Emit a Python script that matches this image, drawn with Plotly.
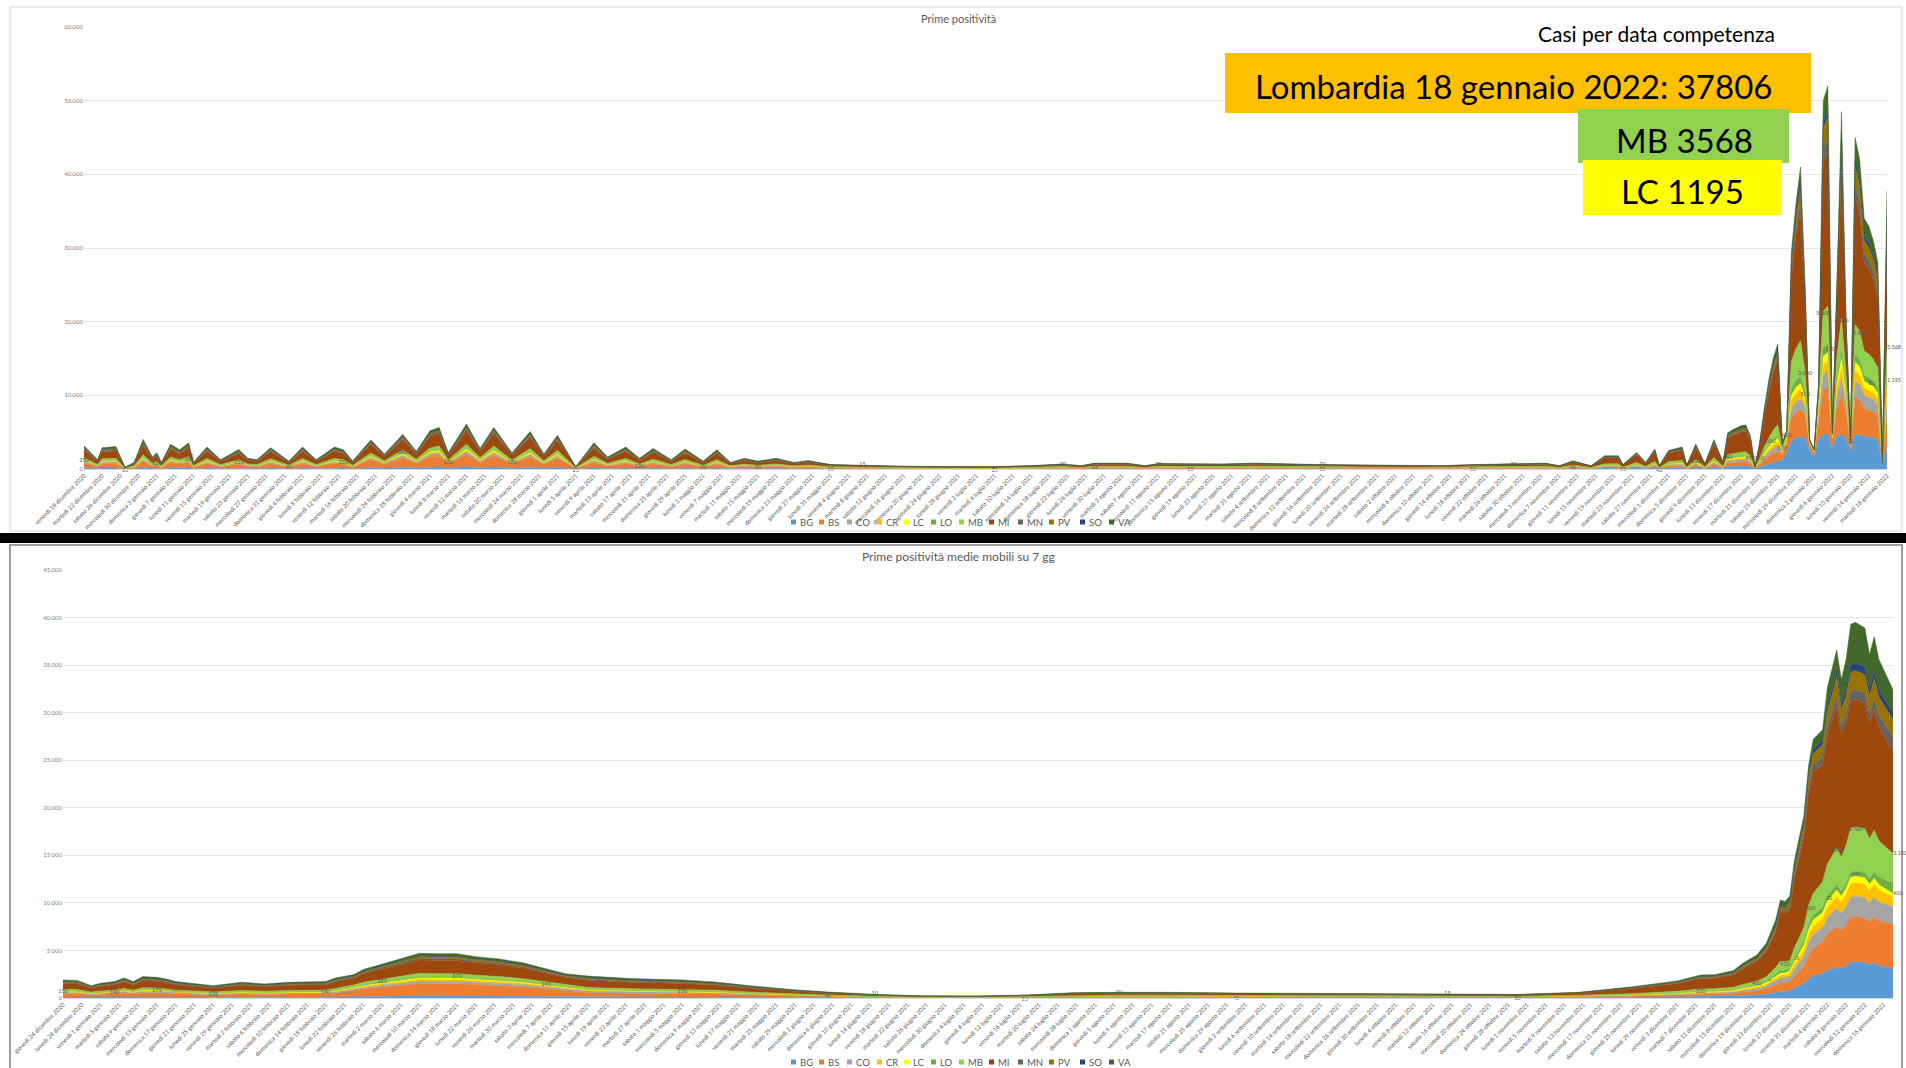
import datetime as dt
import plotly.graph_objects as go

W, H = 1906, 1068

SERIES = ["BG", "BS", "CO", "CR", "LC", "LO", "MB", "MI", "MN", "PV", "SO", "VA"]
COLORS = ["#5B9BD5", "#ED7D31", "#A5A5A5", "#FFC000", "#FFFF00", "#70AD47",
          "#92D050", "#9E480E", "#636363", "#997300", "#264478", "#43682B"]

WEEKDAYS_IT = ["lunedì", "martedì", "mercoledì", "giovedì", "venerdì", "sabato", "domenica"]
MONTHS_IT = ["gennaio", "febbraio", "marzo", "aprile", "maggio", "giugno", "luglio",
             "agosto", "settembre", "ottobre", "novembre", "dicembre"]

# ---------------- top chart: daily new positives (days since 18 Dec 2020) ----------------
TOP_START = dt.date(2020, 12, 18)
TOP_DAY = [0, 3, 4, 7, 9, 11, 13, 15, 16, 17, 19, 21, 23, 24, 27, 30, 34, 36, 38, 41,
           45, 48, 51, 55, 57, 59, 63, 66, 70, 73, 76, 78, 80, 84, 87, 90, 94, 98, 101, 104,
           108, 112, 115, 119, 122, 125, 129, 132, 136, 139, 142, 145, 148, 152, 156, 159, 164, 171, 179, 190,
           200, 208, 215, 219, 222, 229, 233, 236, 243, 250, 257, 264, 272, 281, 290, 298, 305, 314, 321, 324,
           327, 331, 334, 337, 338, 341, 343, 345, 346, 348, 351, 352, 354, 356, 358, 360, 361, 362, 364, 365,
           366, 367, 368, 369, 370, 371, 372, 373, 374, 375, 376, 377, 378, 379, 380, 381, 382, 383, 384, 385,
           386, 387, 388, 389, 390, 391, 392, 393, 394, 395, 396]

TOP_BG = [160, 60, 150, 150, 10, 40, 200, 80, 110, 40, 170, 130, 180, 40, 150, 60, 130, 70, 60, 150, 50, 150, 60, 150, 130, 50,
          200, 100, 240, 120, 260, 280, 110, 310, 140, 280, 110, 250, 100, 230, 15,
          180, 80, 150, 70, 140, 60, 135, 50, 130, 40, 70, 50, 70, 40, 60, 30, 25, 20, 15, 15, 20, 35, 20, 40, 40, 20, 40, 35, 35, 40, 35, 30, 30, 25, 20, 30, 35, 40, 20, 55, 20,
          130, 130, 40, 160, 60, 190, 30, 180, 210, 35, 240, 50, 280, 60, 340, 370, 410, 420, 320,
          100,
          250, 500, 700, 900, 1000, 1200, 2200, 3700, 4200, 4400, 4300, 2600, 1600, 4000, 4700, 4800, 2800, 4500, 4600, 4200, 2400, 4700, 4600, 4400, 4300, 4300, 3900, 500, 3000]
TOP_BS = [630, 250, 580, 610, 50, 180, 800, 330, 440, 180, 670, 520, 710, 180, 600, 250, 530, 290, 250, 580, 210, 600, 250, 600, 520, 210,
          1060, 550, 1270, 650, 1400, 1530, 590, 1650, 750, 1530, 590, 1370, 550, 1240, 80,
          710, 330, 600, 290, 560, 250, 540, 210, 520, 180, 290, 210, 290, 180, 230, 120, 100, 75, 65, 65, 90, 135, 90, 160, 160, 90, 150, 135, 135, 160, 135, 120, 110, 100, 90, 120, 135, 160, 90, 220, 90,
          180, 180, 60, 230, 90, 270, 45, 250, 300, 50, 340, 70, 400, 90, 490, 530, 590, 600, 450,
          40,
          350, 700, 1000, 1200, 1400, 700, 1300, 3300, 3500, 3600, 3000, 700, 500, 2500, 6000, 6300, 1000, 4000, 5500, 3500, 600, 5000, 4800, 3800, 3600, 3500, 3200, 150, 4200]
TOP_CO = [220, 90, 200, 210, 20, 60, 280, 110, 160, 60, 240, 180, 250, 60, 210, 90, 190, 100, 90, 200, 80, 210, 90, 210, 180, 80,
          240, 120, 280, 140, 310, 340, 130, 370, 170, 340, 130, 300, 120, 270, 20,
          250, 110, 210, 100, 195, 90, 190, 80, 180, 60, 100, 80, 100, 60, 80, 40, 35, 25, 25, 20, 30, 50, 30, 55, 55, 30, 50, 50, 50, 55, 50, 40, 40, 35, 30, 40, 50, 55, 30, 75, 30,
          90, 90, 30, 110, 45, 140, 25, 130, 150, 25, 170, 35, 200, 45, 250, 270, 300, 300, 230,
          20,
          180, 400, 550, 700, 800, 250, 400, 1200, 1400, 1500, 1100, 200, 150, 800, 2200, 2300, 300, 1500, 2200, 1200, 150, 2200, 2100, 1800, 1800, 1700, 1600, 40, 2300]
TOP_CR = [100, 40, 90, 90, 10, 30, 120, 50, 70, 30, 100, 80, 110, 30, 90, 40, 80, 40, 40, 90, 30, 90, 40, 90, 80, 30,
          160, 80, 190, 100, 210, 230, 90, 240, 110, 230, 90, 200, 80, 180, 10,
          110, 50, 90, 40, 85, 40, 80, 30, 80, 30, 40, 30, 40, 30, 30, 20, 15, 10, 10, 10, 15, 20, 15, 25, 25, 15, 25, 20, 20, 25, 20, 20, 15, 15, 15, 20, 20, 25, 15, 35, 15,
          50, 50, 20, 70, 30, 80, 15, 70, 90, 15, 100, 20, 120, 30, 150, 160, 180, 180, 140,
          10,
          100, 250, 350, 450, 500, 150, 250, 1100, 1200, 1300, 800, 120, 80, 600, 1300, 1300, 150, 900, 1400, 800, 90, 1400, 1300, 1000, 1000, 900, 900, 30, 1300]
TOP_LC = [100, 40, 90, 90, 10, 30, 120, 50, 70, 30, 100, 80, 110, 30, 90, 40, 80, 40, 40, 90, 30, 90, 40, 90, 80, 30,
          120, 60, 140, 70, 160, 170, 70, 180, 80, 170, 70, 150, 60, 140, 10,
          110, 50, 90, 40, 85, 40, 80, 30, 80, 30, 40, 30, 40, 30, 30, 20, 15, 10, 10, 10, 15, 20, 15, 25, 25, 15, 20, 20, 20, 25, 20, 20, 15, 15, 15, 20, 20, 25, 15, 35, 15,
          50, 50, 20, 70, 25, 80, 15, 70, 90, 15, 100, 20, 120, 25, 150, 160, 180, 180, 140,
          10,
          100, 250, 350, 450, 500, 120, 200, 700, 800, 800, 500, 80, 60, 500, 1100, 1100, 120, 800, 1300, 600, 70, 1200, 1100, 900, 900, 800, 700, 20, 1195]
TOP_LO = [60, 30, 60, 60, 5, 20, 80, 30, 40, 20, 70, 50, 70, 20, 60, 30, 50, 30, 30, 60, 20, 60, 30, 60, 50, 20,
          80, 40, 90, 50, 100, 110, 40, 120, 60, 110, 40, 100, 40, 90, 5,
          70, 30, 60, 30, 55, 30, 55, 20, 50, 20, 30, 20, 30, 20, 20, 10, 10, 10, 5, 5, 10, 15, 10, 15, 15, 10, 15, 15, 15, 15, 15, 10, 10, 10, 10, 10, 15, 15, 10, 20, 10,
          40, 40, 10, 40, 20, 50, 10, 50, 60, 10, 70, 15, 80, 20, 100, 110, 120, 120, 90,
          5,
          70, 150, 200, 250, 300, 100, 150, 900, 900, 1000, 600, 60, 50, 500, 1100, 1200, 100, 700, 1000, 500, 50, 1000, 900, 800, 800, 700, 700, 20, 900]
TOP_MB = [250, 100, 230, 240, 20, 70, 320, 130, 180, 70, 270, 210, 280, 70, 240, 100, 210, 120, 100, 230, 90, 240, 100, 240, 210, 90,
          310, 160, 380, 190, 420, 450, 180, 490, 220, 450, 180, 410, 160, 370, 25,
          280, 130, 240, 120, 220, 100, 215, 90, 210, 70, 120, 90, 120, 70, 90, 50, 40, 30, 25, 25, 35, 55, 35, 65, 65, 35, 60, 55, 55, 65, 55, 50, 45, 40, 35, 50, 55, 65, 35, 90, 35,
          160, 160, 55, 200, 80, 240, 40, 230, 270, 45, 310, 65, 360, 80, 440, 480, 530, 540, 410,
          20,
          320, 700, 1000, 1300, 1500, 300, 400, 3700, 4300, 4800, 3000, 100, 80, 1500, 5000, 5100, 150, 2800, 4500, 2000, 70, 4100, 3900, 3300, 3200, 3000, 2700, 20, 3568]
TOP_MI = [1050, 420, 960, 1010, 70, 290, 1320, 540, 730, 290, 1110, 860, 1170, 290, 980, 420, 880, 480, 420, 960, 350, 980, 420, 980, 860, 350,
          1180, 600, 1410, 720, 1560, 1700, 660, 1830, 840, 1700, 660, 1520, 600, 1370, 90,
          1170, 540, 980, 480, 920, 420, 890, 350, 860, 290, 480, 350, 480, 290, 380, 200, 165, 125, 110, 105, 150, 225, 150, 265, 265, 150, 250, 225, 225, 265, 225, 200, 180, 165, 150, 200, 225, 265, 150, 360, 150,
          830, 830, 275, 1030, 415, 1240, 205, 1150, 1380, 230, 1560, 320, 1840, 415, 2250, 2440, 2710, 2760, 2070,
          60,
          1610, 3900, 6200, 7800, 8800, 450, 250, 11500, 15500, 17500, 9000, 100, 60, 900, 20300, 21000, 150, 8000, 19500, 6000, 60, 17500, 16000, 12000, 11600, 10800, 9500, 20, 14000]
TOP_MN = [130, 50, 120, 120, 10, 30, 160, 70, 90, 30, 130, 100, 140, 30, 120, 50, 110, 60, 50, 120, 40, 120, 50, 120, 100, 40,
          160, 80, 190, 100, 210, 230, 90, 240, 110, 230, 90, 200, 80, 180, 10,
          140, 70, 120, 60, 110, 50, 110, 40, 100, 30, 60, 40, 60, 30, 50, 30, 20, 15, 15, 15, 20, 25, 20, 30, 30, 20, 30, 25, 25, 30, 25, 25, 20, 20, 20, 25, 25, 30, 20, 45, 20,
          50, 50, 20, 70, 25, 80, 15, 70, 90, 15, 100, 20, 120, 25, 150, 160, 180, 180, 140,
          5,
          100, 250, 350, 400, 450, 60, 40, 800, 1000, 1200, 600, 10, 5, 50, 1700, 1800, 10, 400, 1500, 300, 5, 1600, 1500, 1200, 1200, 1100, 1000, 0, 1300]
TOP_PV = [160, 60, 140, 160, 10, 40, 200, 80, 110, 40, 170, 130, 180, 40, 150, 60, 130, 70, 60, 140, 50, 150, 60, 150, 130, 50,
          160, 80, 190, 100, 210, 230, 90, 240, 110, 230, 90, 200, 80, 180, 15,
          180, 80, 150, 70, 140, 60, 135, 50, 130, 40, 70, 50, 70, 40, 60, 30, 25, 20, 15, 15, 25, 35, 25, 40, 40, 25, 35, 35, 35, 40, 35, 30, 30, 25, 25, 30, 35, 40, 25, 55, 25,
          70, 70, 25, 90, 35, 110, 15, 100, 120, 20, 140, 30, 160, 35, 200, 210, 240, 240, 180,
          10,
          140, 300, 450, 550, 600, 70, 50, 1000, 1300, 1700, 800, 20, 10, 80, 2800, 2900, 10, 700, 2500, 500, 5, 2400, 2300, 1800, 1700, 1600, 1400, 0, 2000]
TOP_SO = [60, 20, 60, 60, 5, 20, 80, 30, 40, 20, 70, 50, 70, 20, 60, 20, 50, 30, 20, 60, 20, 60, 20, 60, 50, 20,
          40, 30, 50, 20, 50, 60, 20, 60, 30, 60, 20, 50, 30, 50, 5,
          70, 30, 60, 30, 55, 20, 55, 20, 50, 20, 30, 20, 30, 20, 20, 10, 10, 10, 5, 5, 5, 15, 5, 15, 15, 5, 15, 15, 15, 15, 15, 10, 10, 10, 5, 10, 15, 15, 5, 20, 5,
          20, 20, 5, 20, 10, 30, 5, 30, 30, 5, 30, 5, 40, 10, 50, 50, 60, 60, 40,
          5,
          40, 100, 150, 150, 150, 30, 20, 400, 400, 500, 300, 5, 0, 20, 800, 900, 5, 200, 800, 100, 0, 900, 800, 600, 600, 600, 500, 0, 600]
TOP_VA = [250, 100, 220, 250, 10, 70, 330, 140, 180, 70, 250, 210, 280, 70, 230, 100, 220, 120, 100, 220, 100, 230, 100, 230, 210, 100,
          220, 120, 270, 140, 310, 320, 130, 370, 170, 320, 130, 330, 120, 280, 15,
          280, 140, 230, 120, 225, 100, 215, 100, 210, 70, 120, 100, 120, 70, 100, 50, 40, 30, 30, 30, 35, 50, 35, 65, 65, 35, 60, 50, 50, 65, 50, 45, 45, 40, 35, 45, 50, 65, 35, 95, 35,
          130, 130, 40, 160, 65, 190, 30, 170, 210, 35, 240, 50, 280, 65, 330, 360, 400, 400, 290,
          15,
          240, 500, 700, 850, 1000, 70, 40, 1200, 1500, 2700, 1000, 5, 5, 50, 3000, 3300, 5, 500, 3700, 300, 0, 3000, 2700, 2400, 2300, 2000, 1900, 0, 3443]

# ---------------- bottom chart: 7-day moving average (days since 24 Dec 2020) ----------------
BOT_START = dt.date(2020, 12, 24)
BOT_DAY = [0, 3, 6, 8, 11, 13, 15, 17, 20, 22, 24, 29, 32, 38, 43, 48, 56, 58, 62, 64,
           68, 72, 76, 80, 84, 88, 93, 98, 103, 107, 112, 121, 132, 139, 147, 155, 163, 173, 183, 195,
           205, 215, 225, 235, 250, 265, 280, 295, 310, 323, 334, 344, 349, 352, 356, 358, 361, 363, 365, 366,
           367, 368, 369, 371, 372, 373, 375, 376, 378, 379, 380, 381, 382, 384, 385, 386, 387, 390]

BOT_BG = [95, 90, 65, 80, 85, 105, 85, 110, 110, 100, 85, 75, 65, 80, 75, 80, 85, 105,
          125, 150, 180, 205, 240, 235, 235, 220, 205, 185, 150, 130,
          115, 100, 95, 85, 60, 45, 30, 20, 10, 10, 15,
          30, 30, 30, 25, 25, 25, 20, 20, 30,
          80, 130, 170, 170, 200, 255, 320, 400, 570,
          670, 680, 750, 1015, 1540, 2000, 2300, 2600, 2900, 3200, 3100, 3400, 3750, 3800, 3700, 3500, 3700, 3400, 3100]
BOT_BS = [380, 370, 260, 310, 345, 420, 345, 450, 435, 400, 345, 295, 260, 330, 295, 330, 345, 420,
          665, 810, 965, 1105, 1270, 1255, 1255, 1175, 1105, 1000, 825, 690,
          460, 410, 380, 335, 250, 180, 125, 75, 45, 40, 80,
          110, 120, 120, 105, 100, 95, 85, 75, 120,
          115, 180, 240, 245, 290, 365, 455, 575, 820,
          900, 920, 960, 1305, 1760, 2500, 2900, 3300, 3800, 4300, 4000, 4300, 4700, 4750, 4700, 4500, 4800, 4700, 4600]
BOT_CO = [135, 130, 90, 110, 120, 145, 120, 160, 150, 140, 120, 105, 90, 115, 105, 115, 120, 145,
          150, 180, 215, 245, 280, 280, 280, 260, 245, 220, 185, 155,
          160, 145, 135, 120, 90, 65, 45, 25, 15, 15, 20,
          40, 40, 40, 35, 35, 35, 30, 25, 40,
          60, 90, 120, 125, 145, 185, 225, 290, 410,
          530, 520, 535, 725, 1050, 1300, 1450, 1500, 1700, 1900, 1800, 1950, 2150, 2150, 2150, 2000, 2100, 2000, 1900]
BOT_CR = [55, 55, 40, 45, 50, 65, 50, 70, 65, 60, 50, 45, 40, 50, 45, 50, 50, 65,
          100, 120, 145, 165, 190, 185, 185, 175, 165, 150, 120, 100,
          70, 60, 55, 50, 40, 25, 20, 10, 5, 5, 10,
          15, 20, 20, 15, 15, 15, 15, 10, 20,
          35, 50, 75, 75, 85, 110, 135, 170, 245,
          300, 300, 320, 435, 650, 800, 900, 950, 1100, 1250, 1150, 1250, 1400, 1400, 1400, 1300, 1350, 1250, 1000]
BOT_LC = [55, 55, 40, 45, 50, 65, 50, 70, 65, 60, 50, 45, 40, 50, 45, 50, 50, 65,
          75, 90, 105, 125, 140, 140, 140, 130, 125, 110, 90, 75,
          70, 60, 55, 50, 40, 25, 20, 10, 5, 5, 10,
          15, 20, 20, 15, 15, 15, 15, 10, 20,
          35, 50, 75, 75, 85, 110, 135, 170, 245,
          200, 200, 270, 365, 550, 600, 650, 650, 700, 700, 650, 650, 700, 700, 700, 650, 650, 550, 400]
BOT_LO = [40, 35, 25, 30, 35, 40, 35, 45, 45, 40, 35, 30, 25, 35, 30, 35, 35, 40,
          50, 60, 70, 80, 90, 95, 95, 85, 80, 75, 60, 50,
          45, 40, 40, 35, 30, 20, 15, 10, 5, 5, 5,
          10, 10, 10, 10, 10, 10, 10, 10, 10,
          25, 40, 50, 50, 60, 75, 90, 115, 165,
          300, 290, 215, 290, 450, 500, 500, 500, 550, 550, 500, 500, 500, 500, 550, 600, 650, 800, 1100]
BOT_MB = [150, 150, 105, 125, 140, 170, 140, 180, 175, 160, 140, 120, 105, 130, 120, 130, 140, 170,
          195, 240, 285, 330, 380, 370, 370, 350, 330, 295, 245, 205,
          185, 165, 150, 135, 100, 70, 50, 30, 20, 15, 25,
          45, 50, 50, 40, 40, 40, 35, 30, 50,
          105, 160, 220, 220, 260, 330, 410, 520, 740,
          950, 920, 855, 1160, 1400, 2000, 2300, 2700, 3300, 3900, 3600, 4000, 4650, 4700, 4600, 4200, 4400, 3800, 3100]
BOT_MI = [625, 610, 430, 510, 570, 695, 570, 740, 715, 660, 570, 490, 430, 545, 490, 545, 570, 695,
          735, 900, 1075, 1230, 1410, 1395, 1395, 1305, 1230, 1110, 915, 770,
          760, 675, 625, 555, 420, 300, 205, 125, 75, 65, 90,
          180, 200, 200, 175, 165, 155, 135, 125, 200,
          530, 830, 1110, 1125, 1325, 1680, 2085, 2645, 3770,
          5250, 5120, 5350, 7250, 9600, 11900, 12800, 12300, 13500, 15000, 12900, 12900, 13400, 13400, 13200, 12100, 12800, 12000, 10700]
BOT_MN = [75, 75, 50, 60, 70, 85, 70, 90, 85, 80, 70, 60, 50, 65, 60, 65, 70, 85,
          100, 120, 145, 165, 190, 185, 185, 175, 165, 150, 120, 100,
          90, 80, 75, 65, 50, 35, 25, 15, 10, 10, 10,
          20, 25, 25, 20, 20, 20, 15, 15, 25,
          35, 50, 75, 75, 85, 110, 135, 170, 245,
          200, 200, 270, 365, 450, 600, 700, 800, 900, 1000, 900, 950, 1000, 1000, 1000, 1000, 1100, 1200, 1600]
BOT_PV = [95, 95, 65, 80, 85, 105, 85, 110, 110, 100, 85, 75, 65, 85, 75, 85, 85, 105,
          100, 120, 145, 165, 190, 185, 185, 175, 165, 150, 120, 100,
          115, 100, 95, 85, 60, 45, 30, 20, 10, 10, 15,
          30, 30, 30, 25, 25, 25, 20, 20, 30,
          45, 70, 95, 100, 115, 145, 180, 230, 330,
          300, 300, 430, 580, 700, 1000, 1200, 1300, 1600, 1900, 1700, 1800, 2000, 2000, 2000, 1900, 2000, 1900, 1800]
BOT_SO = [40, 35, 25, 30, 35, 40, 35, 45, 45, 40, 35, 30, 25, 35, 30, 35, 35, 40,
          25, 30, 35, 40, 50, 45, 45, 45, 40, 35, 30, 25,
          45, 40, 40, 35, 20, 20, 15, 10, 5, 5, 5,
          10, 10, 10, 10, 10, 10, 10, 10, 10,
          10, 20, 25, 25, 30, 35, 45, 60, 80,
          100, 100, 160, 215, 250, 300, 400, 500, 600, 700, 600, 700, 800, 800, 800, 750, 800, 750, 700]
BOT_VA = [155, 150, 105, 125, 140, 165, 140, 180, 170, 160, 140, 110, 105, 130, 110, 130, 140, 165,
          140, 180, 215, 245, 270, 280, 280, 255, 245, 220, 185, 160,
          185, 165, 155, 130, 100, 70, 50, 30, 15, 15, 15,
          45, 45, 45, 45, 40, 35, 30, 30, 45,
          75, 130, 165, 165, 200, 250, 310, 405, 580,
          600, 600, 585, 795, 750, 900, 1100, 1100, 1950, 2200, 2600, 3200, 4250, 4300, 4100, 3600, 3650, 3250, 2400]

TOP = dict(zip(SERIES, [TOP_BG, TOP_BS, TOP_CO, TOP_CR, TOP_LC, TOP_LO, TOP_MB, TOP_MI, TOP_MN, TOP_PV, TOP_SO, TOP_VA]))
BOT = dict(zip(SERIES, [BOT_BG, BOT_BS, BOT_CO, BOT_CR, BOT_LC, BOT_LO, BOT_MB, BOT_MI, BOT_MN, BOT_PV, BOT_SO, BOT_VA]))
for k in SERIES:
    assert len(TOP[k]) == len(TOP_DAY), ("top", k, len(TOP[k]), len(TOP_DAY))
    assert len(BOT[k]) == len(BOT_DAY), ("bot", k, len(BOT[k]), len(BOT_DAY))

LABELLED = ("LC", "MB")
FONT = "Lato, 'Open Sans', sans-serif"


def it_date(start, off):
    d = start + dt.timedelta(days=off)
    return f"{WEEKDAYS_IT[d.weekday()]} {d.day} {MONTHS_IT[d.month - 1]} {d.year}"


def it_num(v):
    return f"{v:,}".replace(",", ".")


TOP_TICKS = list(range(0, 397, 4))
BOT_TICKS = list(range(0, 391, 4))

fig = go.Figure()
for name, color in zip(SERIES, COLORS):
    for data, days, grp, xa, ya in ((TOP, TOP_DAY, "top", "x", "y"), (BOT, BOT_DAY, "bot", "x2", "y2")):
        vals = data[name]
        lab = name in LABELLED
        n = len(vals)
        labels, positions = None, None
        if lab:
            step, phase = (4, 0) if name == "MB" else (5, 2)
            base_pos = "bottom center" if name == "MB" else "top center"
            labels, positions = [], []
            for i, v in enumerate(vals):
                last = i == n - 1
                show = last or (i % step == phase and i < n - 3)
                labels.append(it_num(v) if show else "")
                positions.append("middle right" if last else base_pos)
        fig.add_trace(go.Scatter(
            x=days, y=vals, name=name, stackgroup=grp, xaxis=xa, yaxis=ya,
            mode="lines+text" if lab else "lines",
            line=dict(width=0.5, color=color), fillcolor=color,
            text=labels, textposition=positions, cliponaxis=False,
            textfont=dict(size=5.5, color="#595959", family=FONT),
            showlegend=False, hoverinfo="x+y+name"))


def px(x):
    return x / W


def py(y):
    return 1 - y / H


axis_common = dict(showgrid=False, zeroline=False, ticks="", showline=True, linecolor="#D9D9D9",
                   automargin=False, tickangle=-45,
                   tickfont=dict(size=6, color="#595959", family=FONT), fixedrange=True)
yaxis_common = dict(showgrid=True, gridcolor="#E6E6E6", gridwidth=1, zeroline=False, showline=False,
                    automargin=False, ticks="", tickformat=",d",
                    tickfont=dict(size=6, color="#7F7F7F", family=FONT), fixedrange=True)

fig.update_layout(
    width=W, height=H, margin=dict(l=0, r=0, t=0, b=0, pad=0, autoexpand=False),
    paper_bgcolor="white", plot_bgcolor="white", separators=",.",
    font=dict(family=FONT),
    xaxis=dict(domain=[px(84), px(1887)], range=[0, 396], anchor="y", tickmode="array",
               tickvals=TOP_TICKS, ticktext=[it_date(TOP_START, t) for t in TOP_TICKS], **axis_common),
    yaxis=dict(domain=[py(469), py(27)], range=[0, 60000], dtick=10000, anchor="x", **yaxis_common),
    xaxis2=dict(domain=[px(63), px(1893)], range=[0, 390], anchor="y2", tickmode="array",
                tickvals=BOT_TICKS, ticktext=[it_date(BOT_START, t) for t in BOT_TICKS], **axis_common),
    yaxis2=dict(domain=[py(998), py(570)], range=[0, 45000], dtick=5000, anchor="x2", **yaxis_common),
)

shapes = []
annots = []


def rect(x0, y0, x1, y1, fill=None, line=None, lw=1, layer="above"):
    shapes.append(dict(type="rect", xref="paper", yref="paper", x0=px(x0), x1=px(x1), y0=py(y1), y1=py(y0),
                       fillcolor=fill if fill else "rgba(0,0,0,0)",
                       line=dict(color=line if line else "rgba(0,0,0,0)", width=lw if line else 0),
                       layer=layer))


def text(x, y, s, size, color="#000000", xanchor="center"):
    annots.append(dict(xref="paper", yref="paper", x=px(x), y=py(y), text=s, showarrow=False,
                       xanchor=xanchor, yanchor="middle", font=dict(size=size, color=color, family=FONT)))


# panel frames and the black separator band
rect(10, 7, 1902, 531, line="#D9D9D9", lw=1, layer="below")
rect(0, 533, 1906, 543, fill="#000000")
rect(10, 545, 1902, 1070, line="#7F7F7F", lw=1.5, layer="below")

# titles
text(958, 18, "Prime positività", 11, "#595959")
text(958, 556, "Prime positività medie mobili su 7 gg", 12, "#595959")

# custom legends (square markers + labels)
LEG_X = [791, 819, 847, 877, 904, 931, 959, 989, 1018, 1049, 1080, 1109]
for yc in (522, 1062):
    for xl, name, color in zip(LEG_X, SERIES, COLORS):
        rect(xl, yc - 2.5, xl + 5, yc + 2.5, fill=color)
        text(xl + 7, yc, name, 9.5, "#595959", xanchor="left")

# highlighted callouts
text(1656, 33, "Casi per data competenza", 21)
rect(1225, 53, 1811, 113, fill="#FFC000")
text(1513, 86, "Lombardia 18 gennaio 2022: 37806", 33)
rect(1578, 109, 1789, 163, fill="#92D050")
text(1684, 140, "MB 3568", 33)
rect(1583, 160, 1782, 215, fill="#FFFF00")
text(1682, 191, "LC 1195", 33)

fig.update_layout(shapes=shapes, annotations=annots)
fig.write_html("out.html", config={"displayModeBar": False},
               post_script="document.body.style.margin='0px';")
